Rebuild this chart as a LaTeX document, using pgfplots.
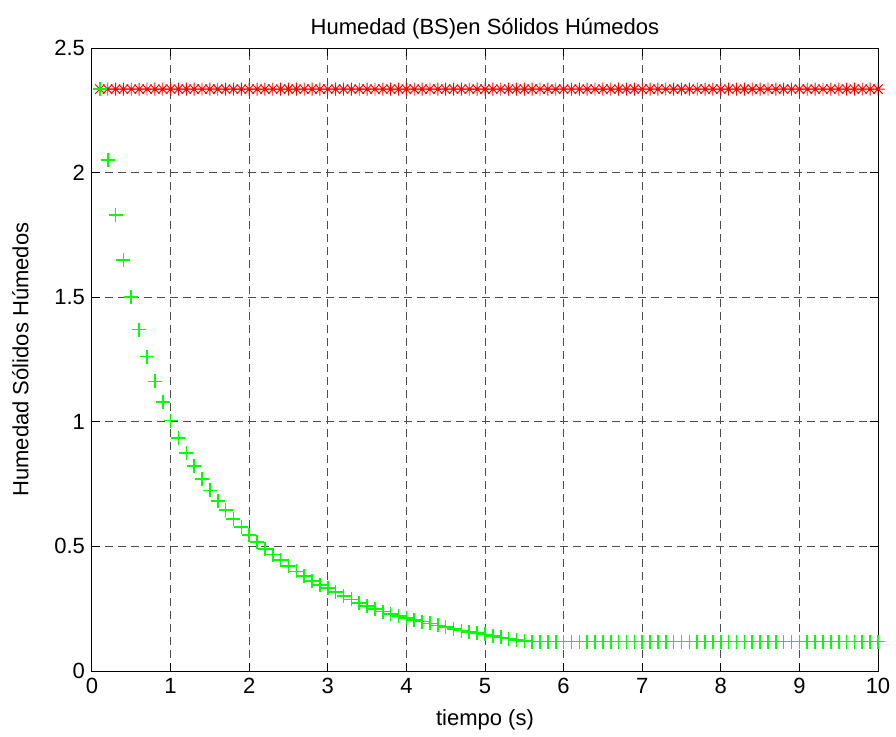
\documentclass[border=0pt]{standalone}
\usepackage{fontspec}
\setmainfont{Liberation Sans}
\usepackage{pgfplots}
\pgfplotsset{compat=1.18}
\usepackage{pgfplotstable}

\definecolor{mred}{RGB}{255,0,0}
\definecolor{mgreen}{RGB}{0,255,0}

% matlab-style asterisk: plus and cross together
\pgfdeclareplotmark{masterisk}{%
  \pgfpathmoveto{\pgfqpoint{-\pgfplotmarksize}{0pt}}%
  \pgfpathlineto{\pgfqpoint{\pgfplotmarksize}{0pt}}%
  \pgfpathmoveto{\pgfqpoint{0pt}{-\pgfplotmarksize}}%
  \pgfpathlineto{\pgfqpoint{0pt}{\pgfplotmarksize}}%
  \pgfpathmoveto{\pgfqpoint{-0.7\pgfplotmarksize}{-0.7\pgfplotmarksize}}%
  \pgfpathlineto{\pgfqpoint{0.7\pgfplotmarksize}{0.7\pgfplotmarksize}}%
  \pgfpathmoveto{\pgfqpoint{-0.7\pgfplotmarksize}{0.7\pgfplotmarksize}}%
  \pgfpathlineto{\pgfqpoint{0.7\pgfplotmarksize}{-0.7\pgfplotmarksize}}%
  \pgfusepathqstroke}
% plain plus
\pgfdeclareplotmark{mplus}{%
  \pgfpathmoveto{\pgfqpoint{-\pgfplotmarksize}{0pt}}%
  \pgfpathlineto{\pgfqpoint{\pgfplotmarksize}{0pt}}%
  \pgfpathmoveto{\pgfqpoint{0pt}{-\pgfplotmarksize}}%
  \pgfpathlineto{\pgfqpoint{0pt}{\pgfplotmarksize}}%
  \pgfusepathqstroke}

% t, red series (asterisks), green series (plus)
\pgfplotstableread{
t    red    green
0.1  2.335  2.335
0.2  2.335  2.050
0.3  2.335  1.830
0.4  2.335  1.650
0.5  2.335  1.500
0.6  2.335  1.370
0.7  2.335  1.262
0.8  2.335  1.162
0.9  2.335  1.080
1.0  2.335  1.005
1.1  2.335  0.935
1.2  2.335  0.874
1.3  2.335  0.822
1.4  2.335  0.771
1.5  2.335  0.725
1.6  2.335  0.682
1.7  2.335  0.645
1.8  2.335  0.610
1.9  2.335  0.577
2.0  2.335  0.545
2.1  2.335  0.518
2.2  2.335  0.490
2.3  2.335  0.467
2.4  2.335  0.446
2.5  2.335  0.422
2.6  2.335  0.400
2.7  2.335  0.381
2.8  2.335  0.362
2.9  2.335  0.346
3.0  2.335  0.332
3.1  2.335  0.318
3.2  2.335  0.302
3.3  2.335  0.287
3.4  2.335  0.274
3.5  2.335  0.261
3.6  2.335  0.249
3.7  2.335  0.238
3.8  2.335  0.229
3.9  2.335  0.221
4.0  2.335  0.213
4.1  2.335  0.205
4.2  2.335  0.198
4.3  2.335  0.191
4.4  2.335  0.183
4.5  2.335  0.176
4.6  2.335  0.168
4.7  2.335  0.162
4.8  2.335  0.157
4.9  2.335  0.152
5.0  2.335  0.147
5.1  2.335  0.141
5.2  2.335  0.135
5.3  2.335  0.130
5.4  2.335  0.125
5.5  2.335  0.121
5.6  2.335  0.118
5.7  2.335  0.118
5.8  2.335  0.118
5.9  2.335  0.118
6.0  2.335  0.118
6.1  2.335  0.118
6.2  2.335  0.118
6.3  2.335  0.118
6.4  2.335  0.118
6.5  2.335  0.118
6.6  2.335  0.118
6.7  2.335  0.118
6.8  2.335  0.118
6.9  2.335  0.118
7.0  2.335  0.118
7.1  2.335  0.118
7.2  2.335  0.118
7.3  2.335  0.118
7.4  2.335  0.118
7.5  2.335  0.118
7.6  2.335  0.118
7.7  2.335  0.118
7.8  2.335  0.118
7.9  2.335  0.118
8.0  2.335  0.118
8.1  2.335  0.118
8.2  2.335  0.118
8.3  2.335  0.118
8.4  2.335  0.118
8.5  2.335  0.118
8.6  2.335  0.118
8.7  2.335  0.118
8.8  2.335  0.118
8.9  2.335  0.118
9.0  2.335  0.118
9.1  2.335  0.118
9.2  2.335  0.118
9.3  2.335  0.118
9.4  2.335  0.118
9.5  2.335  0.118
9.6  2.335  0.118
9.7  2.335  0.118
9.8  2.335  0.118
9.9  2.335  0.118
10.0 2.335  0.118
}\humedad

\begin{document}
\begin{tikzpicture}
\begin{axis}[
  scale only axis,
  width=393pt, height=311.5pt,
  xmin=0, xmax=10, ymin=0, ymax=2.5,
  xtick={0,1,...,10},
  ytick={0,0.5,1,1.5,2,2.5},
  tick align=inside,
  major tick length=4pt,
  axis line style={black, line width=0.5pt},
  tick style={black, line width=0.5pt},
  grid=major,
  major grid style={black!70, line width=0.5pt, dash pattern=on 4pt off 2.5pt},
  font=\fontsize{11}{13}\selectfont,
  tick label style={font=\fontsize{11}{13}\selectfont},
  /pgf/number format/assume math mode=true,
  title={Humedad (BS)en Sólidos Húmedos},
  title style={yshift=-5pt},
  xlabel={tiempo (s)},
  ylabel={Humedad Sólidos Húmedos},
  xlabel style={yshift=-1pt},
  ylabel style={yshift=6pt},
]
\addplot[only marks, mark=masterisk, mark size=3.3pt, draw=mred, mark options={draw=mred, line width=0.45pt}]
  table[x=t, y=red] {\humedad};
\addplot[only marks, mark=mplus, mark size=3.5pt, draw=mgreen, mark options={draw=mgreen, line width=0.8pt}]
  table[x=t, y=green] {\humedad};
\end{axis}
\pgfresetboundingbox
\path[use as bounding box] (-46pt,-32.5pt) rectangle (402pt,335.5pt);
\end{tikzpicture}
\end{document}
